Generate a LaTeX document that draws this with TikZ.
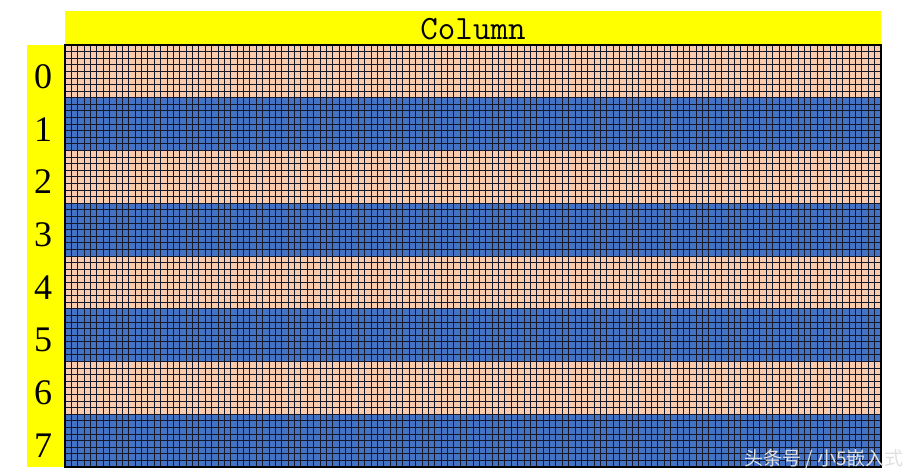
\documentclass[tikz,border=0pt]{standalone}
\usepackage{fontspec}
\setmainfont{Liberation Serif}
\newfontfamily\cjk{Noto Sans CJK SC}
\usetikzlibrary{positioning,calc}
\definecolor{cPeach}{RGB}{248,203,173}
\definecolor{cBlue}{RGB}{68,114,196}
\definecolor{cYel}{RGB}{255,255,0}
\definecolor{cLine}{RGB}{20,24,40}

\begin{document}
\begin{tikzpicture}[x=1pt,y=-1pt]
\tikzset{
 bar/.style={fill=cYel,draw=none},
 pg/.style={font=\fontsize{36}{36}\selectfont,inner sep=0},
 gl/.style={cLine,line width=0.9pt}
}
\useasboundingbox (0,0) rectangle (917,475);
% yellow header strips
\fill[bar] (65,11) rectangle (881,45);
\fill[bar] (27,45) rectangle (65,467);
\node[font=\ttfamily\fontsize{34}{34}\selectfont,inner sep=0] (col) at (473,29) {Column};
% page bands
\foreach \p in {0,...,7}{
 \pgfmathsetmacro{\ya}{45+52.75*\p}
 \pgfmathsetmacro{\yb}{45+52.75*(\p+1)}
 \ifodd\p \def\bc{cBlue}\else\def\bc{cPeach}\fi
 \fill[\bc] (65,\ya) rectangle (881,\yb);
 \node[pg] (p\p) at (43,\ya+31.5) {\p};
}
% pixel grid 128 x 64
\foreach \i in {1,...,127} \draw[gl] (65+\i*6.375,45) -- (65+\i*6.375,467);
\foreach \j in {1,...,63} \draw[gl] (65,45+\j*6.594) -- (881,45+\j*6.594);
\draw[black,line width=2.5pt] (65,45) rectangle (881,467);
\node[font=\cjk\fontsize{19}{19}\selectfont,text=white!88!black,anchor=east,inner sep=0] (wm) at (904,459) {头条号 / 小5嵌入式};
\end{tikzpicture}
\end{document}
